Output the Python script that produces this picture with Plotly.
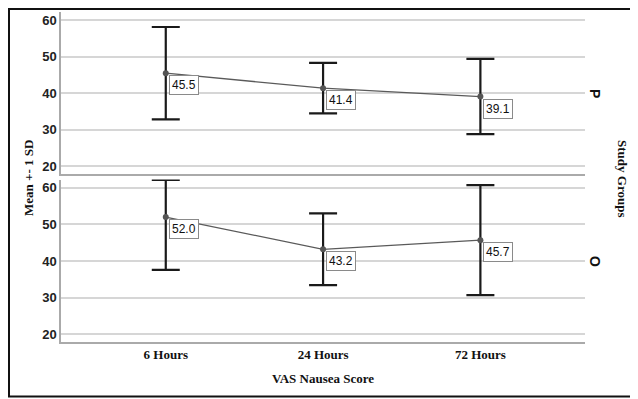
import plotly.graph_objects as go

# ---- data ----
categories = ["6 Hours", "24 Hours", "72 Hours"]
group_p_mean = [45.5, 41.4, 39.1]
group_p_sd = [12.65, 6.9, 10.3]
group_o_mean = [52.0, 43.2, 45.7]
group_o_sd = [14.4, 9.8, 15.0]
groups = ["P", "O"]
y_ticks = [20, 30, 40, 50, 60]

YMIN, YMAX = 17.9, 62.25

OFF = 8  # page body margin
W, H = 638 - OFF, 399 - OFF
# plot-area box in page pixels
L, R, T, B = 61, 585, 12, 342
Lf, Rf, Tf, Bf = L - OFF, R - OFF, T - OFF, B - OFF
pw, ph = R - L, B - T

def py(ypix):
    return (B - ypix) / ph

def px(xpix):
    return (xpix - L) / pw

xpos = list(range(len(categories)))

fig = go.Figure()

serif = "Liberation Serif"
sans = "Liberation Sans"

def add_group(means, sds, yax):
    up = [min(m + s, YMAX - 0.08) - m for m, s in zip(means, sds)]
    xa = "x" if yax == "y2" else "x2"
    fig.add_trace(go.Scatter(
        x=xpos, y=means, mode="lines+markers",
        line=dict(color="#5a5a5a", width=1.3),
        marker=dict(color="#555555", size=6),
        error_y=dict(type="data", array=up, arrayminus=sds, symmetric=False,
                     color="#1a1a1a", thickness=2.2, width=14),
        xaxis=xa, yaxis=yax, showlegend=False,
        hoverinfo="skip",
    ))
    for xi, m in zip(xpos, means):
        fig.add_annotation(
            x=xi, y=m, xref=xa, yref=yax,
            text=f"{m:.1f}", showarrow=False, xanchor="left", yanchor="top",
            xshift=3, yshift=-2,
            font=dict(family=sans, size=12, color="#111"),
            bgcolor="white", bordercolor="#8a8a8a", borderwidth=1, borderpad=2,
        )

add_group(group_p_mean, group_p_sd, "y")
add_group(group_o_mean, group_o_sd, "y2")

top_dom = [py(174), 1.0]
bot_dom = [0.0, py(179.5)]
xr = [-0.666, 2.665]

yax_common = dict(
    range=[YMIN, YMAX], tickvals=y_ticks, showgrid=True, gridcolor="#d6d6d6",
    gridwidth=1.5, zeroline=False, showline=True, linecolor="#aaaaaa", linewidth=1.5,
    ticks="", tickfont=dict(family=sans, size=13, color="#222", weight="bold"),
    fixedrange=True,
)

fig.update_layout(
    width=W, height=H, margin=dict(l=Lf, r=W - Rf, t=Tf, b=H - Bf),
    paper_bgcolor="white", plot_bgcolor="white",
    xaxis=dict(domain=[0, 1], range=xr, anchor="y2", tickvals=xpos, ticktext=categories,
               showgrid=False, zeroline=False, showline=True, linecolor="#aaaaaa",
               linewidth=1.5, ticks="", mirror=False,
               tickfont=dict(family=serif, size=13, color="#111", weight="bold")),
    xaxis2=dict(domain=[0, 1], range=xr, anchor="y", showticklabels=False,
                showgrid=False, zeroline=False, showline=True, linecolor="#aaaaaa",
                linewidth=1.5, ticks="", matches="x"),
    yaxis=dict(domain=top_dom, anchor="x2", **yax_common),
    yaxis2=dict(domain=bot_dom, anchor="x", **yax_common),
)

def label(x, y, text, angle, family, size):
    fig.add_annotation(xref="paper", yref="paper", x=px(x), y=py(y),
                       xanchor="center", yanchor="middle",
                       text=text, textangle=angle, showarrow=False,
                       font=dict(family=family, size=size, color="#111", weight="bold"))

label(28, 178, "Mean +- 1 SD", -90, serif, 13)
label(323, 378, "VAS Nausea Score", 0, serif, 13)
label(595, 93, groups[0], 90, sans, 14)
label(595, 261, groups[1], 90, sans, 14)
label(623, 178, "Study Groups", 90, serif, 13)

# outer frame
fig.add_shape(type="rect", xref="paper", yref="paper",
              x0=px(OFF + 1), x1=px(636.5), y0=py(396.5), y1=py(OFF + 1),
              line=dict(color="#111", width=2), fillcolor="rgba(0,0,0,0)", layer="above")

fig.write_html("out.html")
